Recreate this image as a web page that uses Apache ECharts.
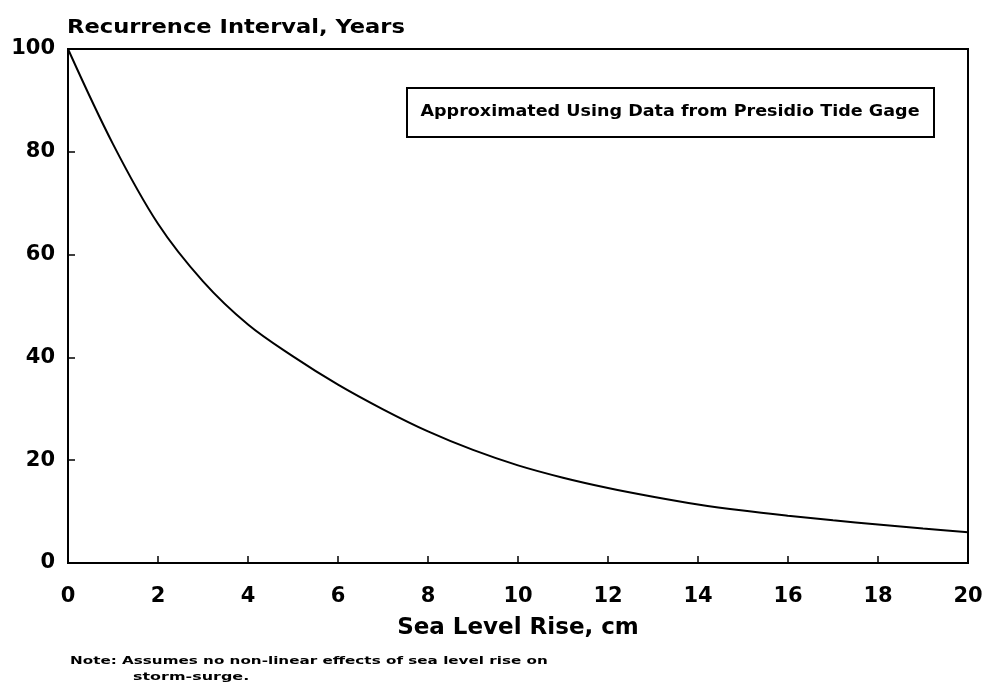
<!DOCTYPE html>
<html>
<head>
<meta charset="utf-8">
<script src="https://cdn.jsdelivr.net/npm/echarts@6/dist/echarts.min.js"></script>
<style>
  html, body { margin: 0; padding: 0; background: #fff; }
  #chart { width: 987px; height: 686px; }
</style>
</head>
<body>
<div id="chart"></div>
<script>
// sea level rise, cm
var seaLevelRise = [0, 1, 2, 3, 4, 5, 6, 7, 8, 9, 10, 11, 12, 13, 14, 15, 16, 17, 18, 19, 20]
// recurrence interval, years
var recurrence = [100, 81.5, 66, 54.8, 46.4, 40.2, 34.7, 29.9, 25.6, 22.0, 19.0, 16.6, 14.6, 12.9, 11.4, 10.2, 9.2, 8.3, 7.5, 6.7, 6.0]
var xTicks = [0, 2, 4, 6, 8, 10, 12, 14, 16, 18, 20]
var yTicks = [0, 20, 40, 60, 80, 100]

var font = '"DejaVu Sans", "Liberation Sans", sans-serif'
var points = seaLevelRise.map(function (x, i) { return [x, recurrence[i]] })

var chart = echarts.init(document.getElementById('chart'))
chart.setOption({
  animation: false,
  backgroundColor: '#fff',
  grid: {
    left: 68, top: 49, right: 19, bottom: 123,
    show: true, borderColor: '#000', borderWidth: 2
  },
  xAxis: {
    type: 'value',
    min: 0, max: 20, interval: 2,
    name: 'Sea Level Rise, cm',
    nameLocation: 'middle',
    nameGap: 54,
    nameTextStyle: { fontFamily: font, fontWeight: 'bold', fontSize: 23, color: '#000' },
    axisLine: { lineStyle: { color: '#000', width: 2 } },
    axisTick: { inside: true, length: 7, lineStyle: { color: '#000', width: 1.5 } },
    axisLabel: { margin: 23, fontFamily: font, fontWeight: 'bold', fontSize: 21, color: '#000' },
    splitLine: { show: false }
  },
  yAxis: {
    type: 'value',
    min: 0, max: 100, interval: 20,
    axisLine: { show: true, lineStyle: { color: '#000', width: 2 } },
    axisTick: { show: true, inside: true, length: 7, lineStyle: { color: '#000', width: 1.5 } },
    axisLabel: { margin: 13, fontFamily: font, fontWeight: 'bold', fontSize: 21, color: '#000' },
    splitLine: { show: false }
  },
  series: [{
    type: 'line',
    data: points,
    smooth: 0.35,
    showSymbol: false,
    lineStyle: { color: '#000', width: 2 }
  }],
  graphic: [
    {
      type: 'text',
      x: 67, y: 28, scaleX: 1.13,
      style: {
        text: 'Recurrence Interval, Years',
        font: 'bold 20px ' + font,
        fill: '#000',
        verticalAlign: 'middle'
      }
    },
    {
      type: 'rect',
      shape: { x: 407, y: 88, width: 527, height: 49 },
      style: { fill: '#fff', stroke: '#000', lineWidth: 2 }
    },
    {
      type: 'text',
      x: 670, y: 112, scaleX: 1.17,
      style: {
        text: 'Approximated Using Data from Presidio Tide Gage',
        font: 'bold 15px ' + font,
        fill: '#000',
        align: 'center',
        verticalAlign: 'middle'
      }
    },
    {
      type: 'text',
      x: 70, y: 661, scaleX: 1.38,
      style: {
        text: 'Note: Assumes no non-linear effects of sea level rise on',
        font: 'bold 11px ' + font,
        fill: '#000',
        verticalAlign: 'middle'
      }
    },
    {
      type: 'text',
      x: 133, y: 677, scaleX: 1.45,
      style: {
        text: 'storm-surge.',
        font: 'bold 11px ' + font,
        fill: '#000',
        verticalAlign: 'middle'
      }
    }
  ]
})
</script>
</body>
</html>
